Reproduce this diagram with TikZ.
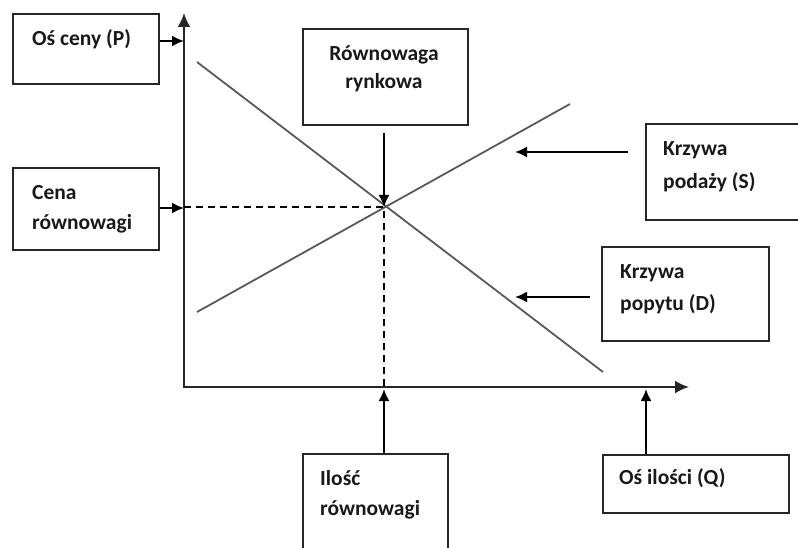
\documentclass[tikz,border=0pt]{standalone}
\usepackage{fontspec}
\setmainfont{Carlito}
\usetikzlibrary{arrows.meta}
\begin{document}
\begin{tikzpicture}[x=1pt,y=-1pt,
  box/.style={draw=black!85,line width=2pt,inner sep=0pt,anchor=north west},
  lbl/.style={anchor=west,inner sep=0pt,font=\fontsize{21.5}{24}\selectfont\bfseries,text=black!90},
  arr/.style={line width=2pt,-{Latex[length=12pt,width=11pt]}},
  axis/.style={line width=2.2pt,black!85,-{Latex[length=14pt,width=13pt]}},
  curve/.style={line width=1.8pt,black!65},
  guide/.style={line width=1.5pt,dash pattern=on 7pt off 5pt}]
\useasboundingbox (0,0) rectangle (798,548);
% axes
\coordinate (O) at (184,387);
\coordinate (Ytop) at (184,13);
\coordinate (Xend) at (689,387);
\draw[axis] (184,388) -- (Ytop);
\draw[axis] (183,387) -- (Xend);
% curves
\coordinate (S1) at (197,312);
\coordinate (S2) at (570,104);
\coordinate (D1) at (197,62);
\coordinate (D2) at (603,372);
\coordinate (E) at (384,207);
\draw[curve] (S1) -- (S2);
\draw[curve] (D1) -- (D2);
% guides
\coordinate (Ey) at (184,207);
\coordinate (Ex) at (384,387);
\draw[guide] (Ey) -- (E) -- (Ex);
% boxes
\node[box,minimum width=146pt,minimum height=70pt] (P) at (12,13) {};
\node[lbl] at (32,39) {Oś ceny (P)};
\node[box,minimum width=165pt,minimum height=96pt] (R) at (302,28) {};
\node[lbl,anchor=center] at (384,55) {Równowaga};
\node[lbl,anchor=center] at (384,83) {rynkowa};
\node[box,minimum width=146pt,minimum height=82pt] (C) at (12,167) {};
\node[lbl] at (32,193) {Cena};
\node[lbl] at (32,224) {równowagi};
\node[box,minimum width=160pt,minimum height=96pt] (KS) at (645,123) {};
\node[lbl] at (663,150) {Krzywa};
\node[lbl] at (663,182) {podaży (S)};
\node[box,minimum width=167pt,minimum height=94pt] (KD) at (601,246) {};
\node[lbl] at (620,273) {Krzywa};
\node[lbl] at (620,304) {popytu (D)};
\node[box,minimum width=145pt,minimum height=110pt] (IL) at (302,453) {};
\node[lbl] at (320,478) {Ilość};
\node[lbl] at (320,510) {równowagi};
\node[box,minimum width=186pt,minimum height=58pt] (Q) at (602,454) {};
\node[lbl] at (619,478) {Oś ilości (Q)};
% connectors
\coordinate (Pa) at (184,41);
\coordinate (Ca) at (184,208);
\coordinate (Ra) at (384,133);
\coordinate (Sa) at (628,152);
\coordinate (Sb) at (515,152);
\coordinate (Da) at (590,297);
\coordinate (Db) at (515,297);
\coordinate (Qa) at (646,389);
\coordinate (Ia) at (384,389);
\draw[arr] (P.east |- Pa) -- (Pa);
\draw[arr] (C.east |- Ca) -- (Ca);
\draw[arr] (Ra) -- (E);
\draw[arr] (Sa) -- (Sb);
\draw[arr] (Da) -- (Db);
\draw[arr] (IL.north -| Ia) -- (Ia);
\draw[arr] (Q.north -| Qa) -- (Qa);
\end{tikzpicture}
\end{document}
